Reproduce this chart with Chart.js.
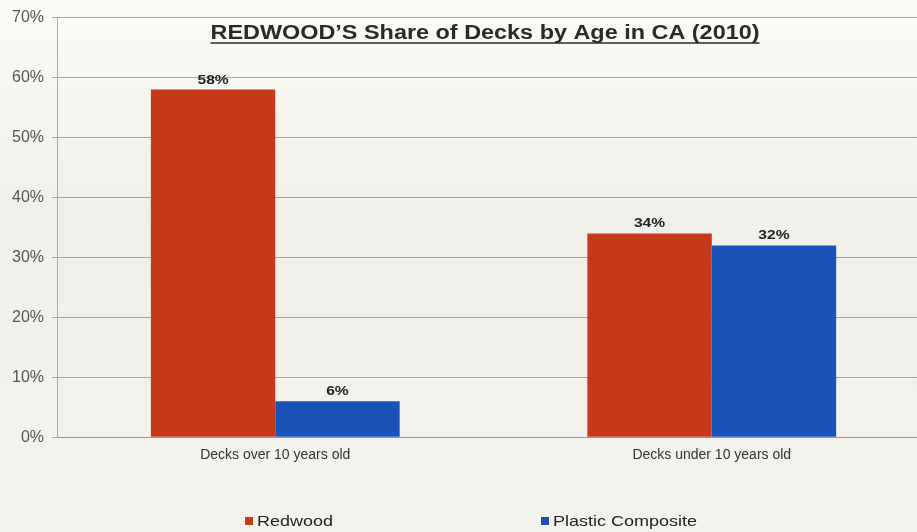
<!DOCTYPE html>
<html><head><meta charset="utf-8">
<script src="https://cdn.jsdelivr.net/npm/chart.js@4.4.0/dist/chart.umd.min.js"></script>
<style>
html,body{margin:0;padding:0;overflow:hidden;width:917px;height:532px;background:linear-gradient(#fbfaf4,#f0efe9 40%,#f3f2ec);}
canvas{display:block;}
</style></head>
<body>
<canvas id="c" width="930" height="532"></canvas>
<script>
const categories = ["Decks over 10 years old", "Decks under 10 years old"];
const redwood = [58, 34];
const plastic = [6, 32];
const seriesNames = ["Redwood", "Plastic Composite"];
const titleText = "REDWOOD\u2019S Share of Decks by Age in CA (2010)";

const FONT = '"Liberation Sans", Arial, sans-serif';

function stretchedText(ctx, text, x, y, targetW) {
  const w = ctx.measureText(text).width;
  const s = targetW / w;
  ctx.save();
  ctx.translate(x, y);
  ctx.scale(s, 1);
  ctx.fillText(text, 0, 0);
  ctx.restore();
  return w * s;
}

const overlay = {
  id: 'overlay',
  afterDatasetsDraw(chart) {
    const ctx = chart.ctx;
    ctx.save();
    ctx.fillStyle = '#222';
    ctx.font = 'bold 13px ' + FONT;
    ctx.textAlign = 'center';
    ctx.textBaseline = 'alphabetic';
    chart.data.datasets.forEach((ds, i) => {
      chart.getDatasetMeta(i).data.forEach((bar, j) => {
        const t = ds.data[j] + '%';
        const w = ctx.measureText(t).width;
        ctx.save();
        ctx.translate(bar.x, bar.y - 6);
        ctx.scale(1.2, 1);
        ctx.fillText(t, 0, 0);
        ctx.restore();
      });
    });
    // title
    ctx.font = 'bold 20px ' + FONT;
    ctx.fillStyle = '#2a2a2a';
    ctx.textAlign = 'center';
    const cx = 485, cy = 39, tw = 549;
    stretchedText(ctx, titleText, cx, cy, tw);
    ctx.strokeStyle = '#2a2a2a';
    ctx.lineWidth = 1.5;
    ctx.beginPath();
    ctx.moveTo(cx - tw/2, cy + 4);
    ctx.lineTo(cx + tw/2, cy + 4);
    ctx.stroke();
    // legend
    const items = [
      { x: 245, color: chart.data.datasets[0].backgroundColor, text: chart.data.datasets[0].label },
      { x: 541, color: chart.data.datasets[1].backgroundColor, text: chart.data.datasets[1].label }
    ];
    ctx.font = '15px ' + FONT;
    ctx.textAlign = 'left';
    ctx.textBaseline = 'middle';
    items.forEach(it => {
      ctx.fillStyle = it.color;
      ctx.fillRect(it.x, 517, 8, 8);
      ctx.fillStyle = '#222';
      const w = ctx.measureText(it.text).width;
      ctx.save();
      ctx.translate(it.x + 12, 522);
      ctx.scale(1.2, 1);
      ctx.fillText(it.text, 0, 0);
      ctx.restore();
    });
    ctx.restore();
  }
};

new Chart(document.getElementById('c'), {
  type: 'bar',
  data: {
    labels: categories,
    datasets: [
      { label: seriesNames[0], data: redwood, backgroundColor: '#c63a1b', borderWidth: 0 },
      { label: seriesNames[1], data: plastic, backgroundColor: '#1a52b9', borderWidth: 0 }
    ]
  },
  options: {
    responsive: false,
    animation: false,
    categoryPercentage: 0.57,
    barPercentage: 1.0,
    layout: { padding: { top: 6, left: 4, right: 0, bottom: 58 } },
    plugins: {
      tooltip: { enabled: false },
      legend: { display: false }
    },
    scales: {
      x: {
        grid: { display: false, drawTicks: false },
        border: { color: '#999' },
        ticks: { color: '#333', padding: 10, font: { size: 14, family: FONT } }
      },
      y: {
        min: 0, max: 70,
        ticks: { stepSize: 10, color: '#555', padding: 8, callback: v => v + '%',
          font: { size: 16, family: FONT } },
        grid: { color: '#a5a5a1', tickLength: 5 },
        border: { color: '#aaa' }
      }
    }
  },
  plugins: [overlay]
});
</script>
</body></html>
